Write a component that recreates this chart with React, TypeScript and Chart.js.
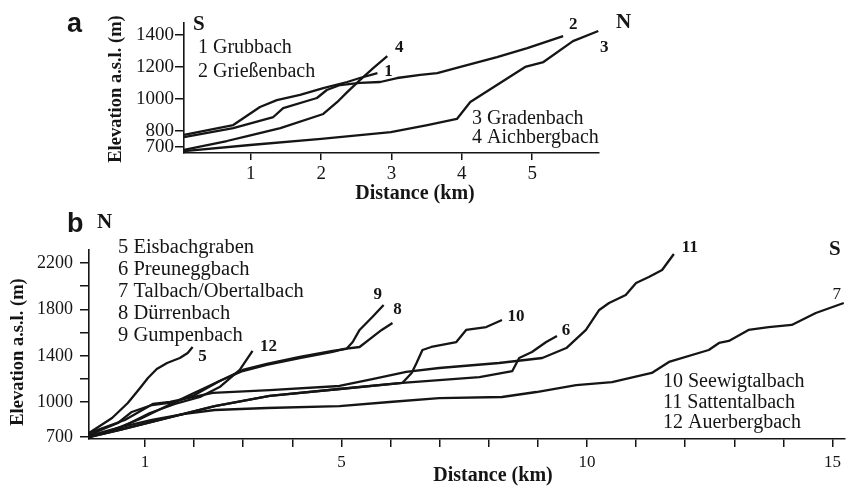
import React, { useEffect, useRef } from 'react';
import { Chart, registerables } from 'chart.js';

Chart.register(...registerables);

// ---------- Panel a (distance km, elevation m) ----------
const aGrubbachX = [0.05, 0.75, 1.13, 1.37, 1.7, 2.03, 2.37, 2.55, 2.8];
const aGrubbachY = [775, 837, 950, 993, 1025, 1068, 1106, 1131, 1162];
const aGriessenbachX = [0.05, 0.75, 1.32, 1.46, 1.94, 2.08, 2.27, 2.55, 2.84, 3.08, 3.41, 3.65, 3.98, 4.5, 4.93, 5.44];
const aGriessenbachY = [762, 818, 887, 943, 1006, 1056, 1087, 1100, 1106, 1131, 1150, 1162, 1200, 1262, 1318, 1393];
const aGradenbachX = [0.05, 0.99, 2.0, 2.99, 3.51, 3.93, 4.12, 4.9, 5.16, 5.58, 5.94];
const aGradenbachY = [674, 712, 750, 793, 837, 875, 981, 1200, 1231, 1362, 1425];
const aAichbergbachX = [0.05, 0.66, 0.95, 1.42, 2.03, 2.23, 2.37, 2.55, 2.74, 2.94];
const aAichbergbachY = [681, 737, 768, 818, 906, 981, 1043, 1118, 1193, 1268];

const aNumbers = ['1', '2', '3', '4'];
const aLegendTop = ['1 Grubbach', '2 Grießenbach'];
const aLegendBottom = ['3 Gradenbach', '4 Aichbergbach'];
const aXTicks = [1, 2, 3, 4, 5];
const aYTicks = [700, 800, 1000, 1200, 1400];

// ---------- Panel b ----------
const bEisbachX = [-0.14, 0.33, 0.65, 0.9, 1.06, 1.24, 1.45, 1.71, 1.87, 1.97];
const bEisbachY = [735, 864, 993, 1123, 1209, 1286, 1338, 1381, 1424, 1476];
const bPreuneggX = [-0.14, 0.49, 1.3, 2.42, 3.54, 4.96, 6.24, 7.81, 8.48, 8.62, 8.88, 9.17, 9.39];
const bPreuneggY = [700, 761, 847, 967, 1054, 1114, 1166, 1217, 1269, 1381, 1433, 1519, 1571];
const bTalbachX = [-0.14, 0.45, 1.14, 1.81, 2.42, 3.48, 4.96, 5.98, 6.99, 8.27, 8.97, 9.78, 10.51, 11.32, 11.67, 12.48, 12.69, 12.89, 13.29, 13.7, 14.17, 14.66, 15.23];
const bTalbachY = [709, 778, 847, 899, 933, 950, 967, 1002, 1036, 1045, 1088, 1148, 1174, 1252, 1347, 1450, 1511, 1528, 1623, 1648, 1666, 1769, 1855];
const bDuerrenX = [-0.14, 0.39, 0.9, 1.4, 1.91, 2.52, 2.99, 3.48, 4.15, 4.82, 5.06, 5.37, 5.61, 5.82, 6.04];
const bDuerrenY = [700, 769, 855, 959, 1062, 1183, 1269, 1321, 1381, 1433, 1459, 1476, 1554, 1623, 1683];
const bGumpenX = [-0.14, 0.45, 0.73, 1.14, 1.61, 2.01, 2.52, 2.99, 3.48, 4.15, 4.82, 5.1, 5.23, 5.37, 5.63, 5.86];
const bGumpenY = [717, 821, 916, 976, 1002, 1062, 1183, 1278, 1330, 1390, 1442, 1459, 1519, 1623, 1735, 1838];
const bSeewigX = [-0.14, 0.49, 1.3, 2.42, 3.54, 4.96, 6.24, 6.43, 6.53, 6.65, 6.83, 7.34, 7.54, 7.95, 8.27];
const bSeewigY = [700, 761, 847, 967, 1054, 1114, 1166, 1252, 1338, 1450, 1476, 1519, 1623, 1648, 1709];
const bSattenX = [-0.14, 0.59, 1.16, 1.51, 2.38, 3.54, 4.96, 5.63, 6.32, 6.99, 8.21, 9.09, 9.58, 9.98, 10.25, 10.45, 10.79, 11.0, 11.26, 11.53, 11.77];
const bSattenY = [735, 847, 985, 1002, 1080, 1105, 1140, 1200, 1261, 1295, 1338, 1381, 1467, 1623, 1795, 1855, 1924, 2028, 2080, 2140, 2278];
const bAuerbergX = [-0.14, 0.49, 1.1, 1.61, 2.12, 2.52, 2.93, 3.19];
const bAuerbergY = [700, 778, 907, 985, 1045, 1131, 1278, 1442];

const bNumbers = ['5', '6', '7', '8', '9', '10', '11', '12'];
const bLegendTop = ['5 Eisbachgraben', '6 Preuneggbach', '7 Talbach/Obertalbach', '8 Dürrenbach', '9 Gumpenbach'];
const bLegendBottom = ['10 Seewigtalbach', '11 Sattentalbach', '12 Auerbergbach'];
const bXTicks = [1, 2, 3, 4, 5, 6, 7, 8, 9, 10, 11, 12, 13, 14, 15];
const bXLabelled = [1, 5, 10, 15];
const bYTicks = [700, 1000, 1200, 1400, 1600, 1800, 2000, 2200];
const bYLabelled = [700, 1000, 1400, 1800, 2200];

const yTitle = 'Elevation a.s.l. (m)';
const xTitle = 'Distance (km)';

// ---------- styling / layout ----------
const INK = '#151515';
const SERIF = '"Liberation Serif", "Times New Roman", serif';
const SANS = '"Liberation Sans", Arial, sans-serif';

type TextItem = { text: string; x: number; y: number; font: string; align?: CanvasTextAlign; rotate?: boolean };
type EndLabel = { text: string; dx: number; dy: number; font: string };

const toPts = (xs: number[], ys: number[]) => xs.map((x, i) => ({ x, y: ys[i] }));

const makeDataset = (xs: number[], ys: number[]) => ({
  data: toPts(xs, ys),
  borderColor: INK,
  borderWidth: 2.3,
  pointRadius: 0,
  fill: false,
  tension: 0,
  borderJoinStyle: 'round' as const,
  clip: 4,
});

const textPlugin = (items: TextItem[], endLabels: EndLabel[]) => ({
  id: 'texts',
  afterDraw(chart: any) {
    const ctx: CanvasRenderingContext2D = chart.ctx;
    ctx.save();
    ctx.fillStyle = INK;
    items.forEach((it) => {
      ctx.font = it.font;
      if (it.rotate) {
        ctx.save();
        ctx.translate(it.x, it.y);
        ctx.rotate(-Math.PI / 2);
        ctx.textAlign = 'center';
        ctx.textBaseline = 'middle';
        ctx.fillText(it.text, 0, 0);
        ctx.restore();
      } else {
        ctx.textAlign = it.align || 'left';
        ctx.textBaseline = 'alphabetic';
        ctx.fillText(it.text, it.x, it.y);
      }
    });
    const xs = chart.scales.x;
    const ys = chart.scales.y;
    endLabels.forEach((lab, i) => {
      const d = chart.data.datasets[i].data;
      const last = d[d.length - 1];
      const px = xs.getPixelForValue(last.x) + lab.dx;
      const py = ys.getPixelForValue(last.y) + lab.dy;
      ctx.font = lab.font;
      ctx.textAlign = 'center';
      ctx.textBaseline = 'middle';
      ctx.fillText(lab.text, px, py);
    });
    ctx.restore();
  },
});

const axisCommon = (fontSize: number, tl: number, pad: number, labelled?: number[]) => ({
  type: 'linear' as const,
  grid: { drawOnChartArea: false, drawTicks: true, tickLength: tl, color: INK, lineWidth: 1.5 },
  border: { display: true, color: INK, width: 1.6 },
  ticks: {
    color: INK,
    font: { family: SERIF, size: fontSize },
    padding: pad,
    autoSkip: false,
    maxRotation: 0,
    minRotation: 0,
    callback: (v: any) => (!labelled || labelled.includes(Number(v)) ? String(v) : ''),
  },
});

const A_H = 212;
const B_TOP = 212;
const B_H = 275;

function useChart(ref: React.RefObject<HTMLCanvasElement>, build: () => any) {
  useEffect(() => {
    if (!ref.current) return;
    const chart = new Chart(ref.current, build());
    return () => chart.destroy();
  }, []);
}

export default function App() {
  const aRef = useRef<HTMLCanvasElement>(null);
  const bRef = useRef<HTMLCanvasElement>(null);

  useChart(aRef, () => {
    const numFont = `bold 17px ${SERIF}`;
    const texts: TextItem[] = [
      { text: 'a', x: 67, y: 32, font: `bold 27px ${SANS}` },
      { text: 'S', x: 193, y: 30, font: `bold 21px ${SERIF}` },
      { text: 'N', x: 616, y: 28, font: `bold 21px ${SERIF}` },
      { text: aLegendTop[0], x: 198, y: 53, font: `20px ${SERIF}` },
      { text: aLegendTop[1], x: 198, y: 77, font: `20px ${SERIF}` },
      { text: aLegendBottom[0], x: 472, y: 124, font: `20px ${SERIF}` },
      { text: aLegendBottom[1], x: 472, y: 143, font: `20px ${SERIF}` },
      { text: yTitle, x: 116, y: 89, font: `bold 18.5px ${SERIF}`, rotate: true },
      { text: xTitle, x: 415, y: 199, font: `bold 20px ${SERIF}`, align: 'center' },
    ];
    const ends: EndLabel[] = [
      { text: aNumbers[0], dx: 11, dy: -1, font: numFont },
      { text: aNumbers[1], dx: 10, dy: -12, font: numFont },
      { text: aNumbers[2], dx: 6, dy: 17, font: numFont },
      { text: aNumbers[3], dx: 12, dy: -8, font: numFont },
    ];
    const ax = axisCommon(19, 7, 3);
    const ay = axisCommon(19, 9, 1);
    return {
      type: 'line',
      data: {
        datasets: [
          makeDataset(aGrubbachX, aGrubbachY),
          makeDataset(aGriessenbachX, aGriessenbachY),
          makeDataset(aGradenbachX, aGradenbachY),
          makeDataset(aAichbergbachX, aAichbergbachY),
        ],
      },
      options: {
        responsive: false,
        animation: false,
        devicePixelRatio: 1,
        layout: { padding: { left: 0, top: 23, right: 247, bottom: 0 } },
        plugins: { legend: { display: false }, tooltip: { enabled: false } },
        scales: {
          x: {
            ...ax,
            min: 0.05,
            max: 5.95,
            afterBuildTicks: (s: any) => { s.ticks = aXTicks.map((v) => ({ value: v })); },
            afterFit: (s: any) => { s.height = A_H - 153; },
          },
          y: {
            ...ay,
            min: 662,
            max: 1475,
            afterBuildTicks: (s: any) => { s.ticks = aYTicks.map((v) => ({ value: v })); },
            afterFit: (s: any) => { s.width = 184; },
          },
        },
      },
      plugins: [textPlugin(texts, ends)],
    };
  });

  useChart(bRef, () => {
    const numFont = `bold 17px ${SERIF}`;
    const o = B_TOP;
    const texts: TextItem[] = [
      { text: 'b', x: 67, y: 232 - o, font: `bold 27px ${SANS}` },
      { text: 'N', x: 97, y: 228 - o, font: `bold 21px ${SERIF}` },
      { text: 'S', x: 829, y: 255 - o, font: `bold 21px ${SERIF}` },
      ...bLegendTop.map((t, i) => ({ text: t, x: 118, y: 253 + 22 * i - o, font: `20.5px ${SERIF}` })),
      ...bLegendBottom.map((t, i) => ({ text: t, x: 663, y: 387 + 20.5 * i - o, font: `20px ${SERIF}` })),
      { text: yTitle, x: 18, y: 352 - o, font: `bold 18.5px ${SERIF}`, rotate: true },
      { text: xTitle, x: 493, y: 481 - o, font: `bold 20px ${SERIF}`, align: 'center' as CanvasTextAlign },
    ];
    const ends: EndLabel[] = [
      { text: bNumbers[0], dx: 10, dy: 10, font: numFont },
      { text: bNumbers[1], dx: 9, dy: -5, font: numFont },
      { text: bNumbers[2], dx: -7, dy: -8, font: `17px ${SERIF}` },
      { text: bNumbers[3], dx: 5, dy: -13, font: numFont },
      { text: bNumbers[4], dx: -6, dy: -10, font: numFont },
      { text: bNumbers[5], dx: 14, dy: -3, font: numFont },
      { text: bNumbers[6], dx: 16, dy: -6, font: numFont },
      { text: bNumbers[7], dx: 16, dy: -4, font: numFont },
    ];
    const ax = axisCommon(17, 8, 5, bXLabelled);
    const ay = axisCommon(18, 9, 7, bYLabelled);
    return {
      type: 'line',
      data: {
        datasets: [
          makeDataset(bEisbachX, bEisbachY),
          makeDataset(bPreuneggX, bPreuneggY),
          makeDataset(bTalbachX, bTalbachY),
          makeDataset(bDuerrenX, bDuerrenY),
          makeDataset(bGumpenX, bGumpenY),
          makeDataset(bSeewigX, bSeewigY),
          makeDataset(bSattenX, bSattenY),
          makeDataset(bAuerbergX, bAuerbergY),
        ],
      },
      options: {
        responsive: false,
        animation: false,
        devicePixelRatio: 1,
        layout: { padding: { left: 0, top: 250 - o, right: 1, bottom: 0 } },
        plugins: { legend: { display: false }, tooltip: { enabled: false } },
        scales: {
          x: {
            ...ax,
            min: -0.14,
            max: 15.25,
            afterBuildTicks: (s: any) => { s.ticks = bXTicks.map((v) => ({ value: v })); },
            afterFit: (s: any) => { s.height = B_H - (439 - o); },
          },
          y: {
            ...ay,
            min: 683,
            max: 2312,
            afterBuildTicks: (s: any) => { s.ticks = bYTicks.map((v) => ({ value: v })); },
            afterFit: (s: any) => { s.width = 89; },
          },
        },
      },
      plugins: [textPlugin(texts, ends)],
    };
  });

  return (
    <div style={{ position: 'fixed', left: 0, top: 0, width: 846, height: 487, background: '#fff', overflow: 'hidden' }}>
      <canvas ref={aRef} width={846} height={A_H} style={{ position: 'absolute', left: 0, top: 0, width: 846, height: A_H }} />
      <canvas ref={bRef} width={846} height={B_H} style={{ position: 'absolute', left: 0, top: B_TOP, width: 846, height: B_H }} />
    </div>
  );
}
